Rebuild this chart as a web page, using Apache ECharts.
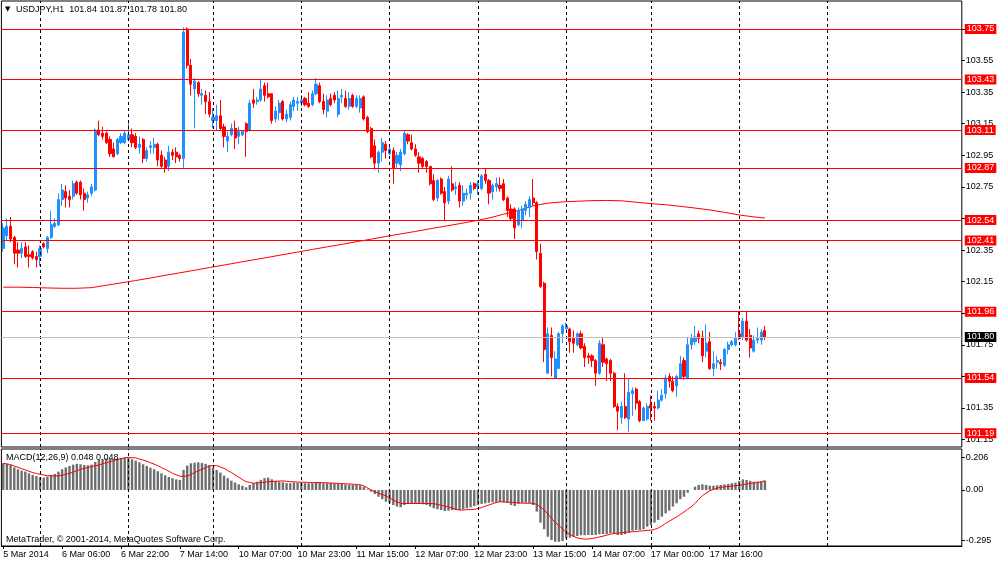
<!DOCTYPE html>
<html>
<head>
<meta charset="utf-8">
<title>USDJPY,H1</title>
<script src="https://cdn.jsdelivr.net/npm/echarts@6.0.0/dist/echarts.min.js"></script>
<style>
  html, body { margin: 0; padding: 0; background: #fff; }
  #chart { width: 1000px; height: 563px; }
</style>
</head>
<body>
<div id="chart"></div>
<script>
// hourly bars, [open, high, low, close], 5 Mar 14:00 .. 18 Mar 07:00
const bars = [
  [102.36,102.52,102.34,102.49],[102.44,102.55,102.41,102.50],[102.50,102.56,102.40,102.42],[102.43,102.44,102.26,102.33],
  [102.35,102.40,102.24,102.33],[102.33,102.40,102.30,102.36],[102.37,102.40,102.30,102.31],[102.32,102.38,102.24,102.31],
  [102.34,102.35,102.29,102.30],[102.31,102.34,102.24,102.29],[102.31,102.38,102.25,102.36],[102.39,102.40,102.36,102.37],
  [102.36,102.44,102.33,102.43],[102.43,102.60,102.42,102.51],[102.50,102.55,102.49,102.52],[102.51,102.71,102.50,102.67],
  [102.67,102.77,102.63,102.73],[102.72,102.76,102.62,102.68],[102.69,102.73,102.62,102.67],[102.69,102.79,102.67,102.77],
  [102.78,102.79,102.70,102.71],[102.78,102.79,102.67,102.70],[102.71,102.74,102.60,102.67],[102.68,102.72,102.65,102.70],
  [102.71,102.77,102.69,102.75],[102.73,103.12,102.72,103.11],[103.11,103.17,103.07,103.08],[103.09,103.13,103.05,103.07],
  [103.09,103.10,103.02,103.03],[103.05,103.07,102.94,102.96],[102.99,103.03,102.94,102.94],[102.96,103.06,102.95,103.05],
  [103.03,103.09,103.02,103.07],[103.03,103.11,103.02,103.09],[103.05,103.17,103.04,103.08],[103.08,103.12,103.00,103.03],
  [103.07,103.09,102.99,103.00],[103.00,103.07,102.96,103.02],[103.05,103.06,102.90,102.93],[102.93,103.00,102.91,102.98],
  [103.00,103.04,102.96,103.01],[103.00,103.06,102.96,103.02],[103.02,103.03,102.88,102.92],[102.95,102.98,102.87,102.88],
  [102.92,102.94,102.84,102.87],[102.88,103.01,102.85,102.97],[102.97,102.99,102.92,102.95],[102.97,103.00,102.90,102.94],
  [102.95,102.96,102.91,102.93],[102.93,103.76,102.87,103.73],[103.75,103.76,103.50,103.52],[103.52,103.56,103.33,103.40],
  [103.37,103.44,103.12,103.42],[103.41,103.42,103.32,103.34],[103.33,103.37,103.27,103.34],[103.33,103.36,103.21,103.29],
  [103.29,103.35,103.19,103.21],[103.17,103.25,103.12,103.19],[103.17,103.27,103.11,103.20],[103.20,103.30,103.11,103.12],
  [103.13,103.15,103.00,103.07],[103.04,103.10,102.97,103.07],[103.08,103.15,103.07,103.12],[103.12,103.17,102.99,103.06],
  [103.07,103.13,103.02,103.10],[103.08,103.11,103.07,103.10],[103.15,103.16,102.94,103.10],[103.11,103.30,103.10,103.28],
  [103.30,103.37,103.25,103.28],[103.29,103.32,103.27,103.30],[103.30,103.43,103.29,103.37],[103.39,103.41,103.29,103.33],
  [103.34,103.41,103.31,103.32],[103.34,103.34,103.15,103.17],[103.18,103.26,103.16,103.23],[103.22,103.30,103.17,103.28],
  [103.29,103.30,103.17,103.18],[103.18,103.24,103.16,103.21],[103.19,103.29,103.17,103.27],[103.26,103.32,103.23,103.30],
  [103.28,103.32,103.23,103.29],[103.28,103.33,103.26,103.30],[103.31,103.32,103.26,103.27],[103.28,103.35,103.25,103.26],
  [103.27,103.36,103.26,103.34],[103.34,103.44,103.33,103.40],[103.39,103.41,103.28,103.29],[103.29,103.34,103.21,103.24],
  [103.23,103.33,103.19,103.30],[103.31,103.34,103.26,103.27],[103.33,103.35,103.28,103.30],[103.21,103.36,103.19,103.31],
  [103.32,103.37,103.28,103.33],[103.31,103.36,103.25,103.26],[103.26,103.35,103.24,103.31],[103.33,103.34,103.25,103.26],
  [103.26,103.33,103.25,103.31],[103.25,103.33,103.22,103.31],[103.32,103.33,103.17,103.18],[103.19,103.20,103.09,103.10],
  [103.12,103.13,102.93,102.94],[103.01,103.05,102.86,102.90],[102.90,102.98,102.84,102.97],[102.97,103.06,102.91,103.03],
  [103.02,103.04,102.93,102.98],[102.96,103.01,102.95,102.99],[102.98,103.00,102.77,102.87],[102.90,102.97,102.87,102.95],
  [102.89,102.99,102.85,102.97],[102.96,103.11,102.95,103.09],[103.08,103.09,103.02,103.04],[103.03,103.08,102.98,102.99],
  [102.99,103.02,102.94,102.95],[102.94,102.97,102.84,102.90],[102.93,102.94,102.87,102.88],[102.91,102.92,102.84,102.88],
  [102.88,102.88,102.76,102.77],[102.79,102.83,102.66,102.67],[102.68,102.80,102.66,102.79],[102.80,102.81,102.70,102.71],
  [102.72,102.75,102.54,102.65],[102.66,102.82,102.64,102.80],[102.77,102.88,102.72,102.73],[102.74,102.78,102.70,102.75],
  [102.76,102.78,102.62,102.66],[102.66,102.76,102.63,102.71],[102.70,102.74,102.67,102.71],[102.71,102.78,102.67,102.76],
  [102.77,102.78,102.73,102.74],[102.75,102.79,102.70,102.77],[102.74,102.83,102.73,102.82],[102.83,102.87,102.77,102.79],
  [102.79,102.80,102.64,102.71],[102.72,102.77,102.67,102.76],[102.75,102.81,102.72,102.77],[102.76,102.81,102.72,102.74],
  [102.77,102.80,102.66,102.67],[102.68,102.69,102.56,102.60],[102.61,102.64,102.54,102.55],[102.61,102.62,102.42,102.49],
  [102.51,102.62,102.50,102.60],[102.54,102.63,102.49,102.61],[102.60,102.66,102.57,102.64],[102.62,102.69,102.56,102.67],
  [102.68,102.80,102.63,102.65],[102.65,102.66,102.29,102.34],[102.33,102.39,102.11,102.12],[102.14,102.15,101.64,101.72],
  [101.57,101.86,101.57,101.82],[101.81,101.86,101.55,101.67],[101.54,101.71,101.54,101.66],[101.60,101.83,101.60,101.82],
  [101.82,101.88,101.76,101.87],[101.85,101.89,101.85,101.87],[101.85,101.86,101.70,101.77],[101.79,101.84,101.70,101.76],
  [101.75,101.83,101.74,101.82],[101.82,101.84,101.72,101.73],[101.74,101.76,101.61,101.67],[101.68,101.70,101.63,101.67],
  [101.68,101.69,101.61,101.65],[101.65,101.66,101.49,101.57],[101.57,101.78,101.56,101.76],[101.75,101.80,101.61,101.64],
  [101.66,101.67,101.52,101.63],[101.65,101.66,101.52,101.57],[101.57,101.58,101.35,101.36],[101.36,101.38,101.21,101.33],
  [101.29,101.39,101.25,101.36],[101.36,101.57,101.28,101.29],[101.28,101.54,101.20,101.45],[101.44,101.48,101.30,101.46],
  [101.47,101.48,101.34,101.38],[101.39,101.40,101.26,101.27],[101.27,101.36,101.27,101.35],[101.28,101.38,101.27,101.36],
  [101.37,101.43,101.27,101.35],[101.36,101.39,101.27,101.35],[101.35,101.46,101.34,101.40],[101.40,101.47,101.39,101.43],
  [101.44,101.56,101.41,101.54],[101.55,101.57,101.48,101.52],[101.52,101.55,101.45,101.46],[101.49,101.56,101.42,101.55],
  [101.54,101.68,101.53,101.63],[101.65,101.67,101.53,101.55],[101.54,101.80,101.53,101.75],[101.75,101.82,101.72,101.79],
  [101.77,101.87,101.75,101.80],[101.82,101.84,101.76,101.79],[101.80,101.84,101.64,101.68],[101.71,101.88,101.67,101.76],
  [101.77,101.83,101.59,101.60],[101.60,101.71,101.55,101.63],[101.64,101.68,101.60,101.65],[101.64,101.66,101.59,101.63],
  [101.62,101.73,101.61,101.72],[101.72,101.77,101.69,101.75],[101.75,101.78,101.74,101.77],[101.75,101.83,101.74,101.79],
  [101.82,101.96,101.78,101.79],[101.80,101.92,101.78,101.90],[101.90,101.96,101.77,101.78],[101.81,101.85,101.67,101.73],
  [101.71,101.81,101.70,101.78],[101.78,101.86,101.76,101.79],[101.78,101.85,101.75,101.83],[101.84,101.87,101.78,101.80]
];

// moving average at these bars
const maBars = [0,4,8,12,16,20,24,28,32,36,40,44,48,52,56,60,64,68,72,76,80,84,88,92,96,100,
  104,108,112,116,120,124,128,132,136,140,144,148,152,156,160,164,168,172,176,180,184,188,192,196,200,204,207];
const maValues = [102.115,102.115,102.113,102.110,102.108,102.108,102.112,102.127,102.142,102.157,102.173,102.190,
  102.206,102.222,102.239,102.255,102.272,102.288,102.304,102.321,102.337,102.354,102.370,102.386,102.403,102.419,
  102.436,102.452,102.468,102.485,102.501,102.517,102.534,102.553,102.577,102.600,102.630,102.647,102.655,102.659,
  102.663,102.664,102.662,102.653,102.644,102.637,102.627,102.616,102.604,102.589,102.572,102.560,102.553];

// MACD(12,26,9) main (histogram) and signal
const macdMain = [
  0.138,0.135,0.129,0.117,0.107,0.100,0.095,0.086,0.078,0.072,
  0.066,0.064,0.069,0.078,0.083,0.095,0.107,0.117,0.124,0.131,
  0.135,0.133,0.129,0.128,0.131,0.145,0.155,0.159,0.162,0.162,
  0.160,0.162,0.166,0.167,0.166,0.159,0.152,0.143,0.133,0.124,
  0.115,0.107,0.097,0.086,0.076,0.067,0.061,0.055,0.052,0.104,
  0.126,0.138,0.141,0.143,0.140,0.135,0.128,0.115,0.104,0.090,
  0.074,0.061,0.048,0.038,0.029,0.022,0.014,0.026,0.035,0.043,
  0.052,0.061,0.064,0.055,0.047,0.043,0.040,0.035,0.035,0.038,
  0.038,0.038,0.035,0.035,0.035,0.041,0.040,0.035,0.035,0.036,
  0.035,0.031,0.031,0.029,0.027,0.026,0.026,0.024,0.016,0.003,
  -0.009,-0.021,-0.035,-0.048,-0.061,-0.069,-0.078,-0.086,-0.090,-0.078,
  -0.072,-0.072,-0.072,-0.072,-0.074,-0.078,-0.086,-0.095,-0.100,-0.104,
  -0.109,-0.107,-0.104,-0.104,-0.104,-0.100,-0.095,-0.090,-0.083,-0.078,
  -0.072,-0.069,-0.066,-0.064,-0.064,-0.062,-0.064,-0.067,-0.078,-0.083,
  -0.072,-0.067,-0.066,-0.067,-0.078,-0.112,-0.169,-0.203,-0.242,-0.259,
  -0.268,-0.268,-0.264,-0.250,-0.247,-0.242,-0.238,-0.234,-0.234,-0.233,
  -0.233,-0.233,-0.229,-0.228,-0.228,-0.224,-0.228,-0.233,-0.233,-0.229,
  -0.221,-0.211,-0.207,-0.207,-0.203,-0.190,-0.181,-0.169,-0.155,-0.138,
  -0.121,-0.107,-0.086,-0.069,-0.048,-0.035,-0.014,0.000,0.017,0.026,
  0.029,0.026,0.022,0.022,0.024,0.026,0.029,0.031,0.035,0.038,
  0.047,0.055,0.052,0.047,0.043,0.043,0.045,0.048
];
const macdSignal = [
  0.138,0.135,0.131,0.124,0.117,0.110,0.104,0.097,0.090,0.085,
  0.081,0.078,0.074,0.073,0.072,0.073,0.076,0.081,0.086,0.093,
  0.100,0.106,0.112,0.116,0.121,0.125,0.129,0.136,0.141,0.146,
  0.152,0.157,0.162,0.166,0.169,0.167,0.166,0.160,0.155,0.149,
  0.141,0.134,0.126,0.116,0.107,0.097,0.086,0.079,0.071,0.071,
  0.072,0.080,0.090,0.098,0.107,0.115,0.124,0.126,0.126,0.119,
  0.112,0.101,0.090,0.078,0.066,0.054,0.043,0.039,0.035,0.036,
  0.038,0.040,0.043,0.044,0.045,0.046,0.047,0.045,0.043,0.042,
  0.041,0.040,0.040,0.039,0.038,0.038,0.038,0.038,0.037,0.036,
  0.035,0.034,0.033,0.032,0.031,0.030,0.028,0.027,0.021,0.010,
  0.000,-0.009,-0.017,-0.023,-0.031,-0.041,-0.052,-0.062,-0.069,-0.070,
  -0.070,-0.070,-0.070,-0.070,-0.070,-0.070,-0.070,-0.071,-0.075,-0.079,
  -0.084,-0.088,-0.094,-0.100,-0.104,-0.104,-0.102,-0.101,-0.100,-0.096,
  -0.091,-0.084,-0.078,-0.071,-0.065,-0.061,-0.062,-0.063,-0.064,-0.065,
  -0.067,-0.068,-0.069,-0.069,-0.069,-0.075,-0.088,-0.104,-0.124,-0.147,
  -0.168,-0.184,-0.202,-0.220,-0.230,-0.240,-0.248,-0.252,-0.254,-0.254,
  -0.251,-0.248,-0.243,-0.239,-0.234,-0.229,-0.225,-0.223,-0.221,-0.219,
  -0.218,-0.216,-0.215,-0.213,-0.211,-0.209,-0.208,-0.204,-0.197,-0.186,
  -0.173,-0.162,-0.150,-0.140,-0.127,-0.114,-0.100,-0.086,-0.069,-0.049,
  -0.029,-0.017,-0.004,0.003,0.009,0.014,0.016,0.018,0.020,0.022,
  0.024,0.027,0.031,0.034,0.036,0.039,0.042,0.048
];

// horizontal levels drawn on the chart, and the current bid
const levels = [103.75, 103.43, 103.11, 102.87, 102.54, 102.41, 101.96, 101.54, 101.19];
const bid = 101.80;

// day separators (bar index of 00:00) and time labels every 16 bars
const daySeparators = [10, 34, 57, 81, 105, 129, 153, 176, 200, 224];
const timeLabels = ['5 Mar 2014', '6 Mar 06:00', '6 Mar 22:00', '7 Mar 14:00', '10 Mar 07:00', '10 Mar 23:00',
  '11 Mar 15:00', '12 Mar 07:00', '12 Mar 23:00', '13 Mar 15:00', '14 Mar 07:00', '17 Mar 00:00', '17 Mar 16:00'];
const labelStep = 16;

const priceTicks = [101.15, 101.35, 101.55, 101.75, 101.95, 102.15, 102.35, 102.55, 102.75, 102.95, 103.15, 103.35, 103.55, 103.75];
// MetaTrader prints the window max / zero / min; placed where they sit on the scale
const macdTickPos = [0.169, 0, -0.262];
const macdTickText = ['0.206', '0.00', '-0.295'];

const SLOTS = 261; // bars + empty right shift
const slots = Array.from({ length: SLOTS }, (_, i) => String(i));

const FONT = 'Liberation Sans';
const txt = { fontFamily: FONT, fontSize: 9, color: '#000' };

const chart = echarts.init(document.getElementById('chart'), null, { renderer: 'canvas' });

const sepLines = daySeparators.map(i => ({
  xAxis: String(i),
  lineStyle: { color: '#000', width: 1, type: [3, 3] },
  label: { show: false }
}));

const levelLines = levels.map(v => ({
  yAxis: v,
  lineStyle: { color: '#ff0000', width: 1, type: 'solid' },
  label: {
    show: true, position: 'end', distance: 3,
    formatter: p => p.value.toFixed(2),
    color: '#fff', backgroundColor: '#ff0000', padding: [1, 2, 0, 2],
    fontFamily: FONT, fontSize: 9
  }
}));

chart.setOption({
  animation: false,
  backgroundColor: '#fff',
  grid: [
    { left: 1.4, right: 38.2, top: 1, height: 446, show: true, borderColor: '#000', borderWidth: 1 },
    { left: 1.4, right: 38.2, top: 449, height: 97, show: true, borderColor: '#000', borderWidth: 1 }
  ],
  xAxis: [
    {
      type: 'category', gridIndex: 0, data: slots, boundaryGap: true,
      axisLine: { show: false }, axisTick: { show: false }, axisLabel: { show: false }, splitLine: { show: false }
    },
    {
      type: 'category', gridIndex: 1, data: slots, boundaryGap: true,
      axisLine: { show: true, onZero: false, lineStyle: { color: '#000' } },
      axisTick: {
        show: true, length: 3, alignWithLabel: true, lineStyle: { color: '#000' },
        interval: i => i % labelStep === 0 && i / labelStep < timeLabels.length
      },
      axisLabel: {
        ...txt, margin: 4, align: 'left',
        interval: i => i % labelStep === 0 && i / labelStep < timeLabels.length,
        formatter: (v, i) => timeLabels[i / labelStep] || ''
      },
      splitLine: { show: false }
    }
  ],
  yAxis: [
    {
      type: 'value', gridIndex: 0, position: 'right', min: 101.103, max: 103.927, scale: true,
      axisLine: { show: false },
      axisTick: { show: true, length: 3, customValues: priceTicks, lineStyle: { color: '#000' } },
      axisLabel: { ...txt, margin: 4, customValues: priceTicks, formatter: v => v.toFixed(2) },
      splitLine: { show: false }
    },
    {
      type: 'value', gridIndex: 1, position: 'right', min: -0.29, max: 0.212,
      axisLine: { show: false },
      axisTick: { show: true, length: 3, customValues: macdTickPos, lineStyle: { color: '#000' } },
      axisLabel: {
        ...txt, margin: 4, customValues: macdTickPos,
        formatter: v => macdTickText[macdTickPos.indexOf(v)]
      },
      splitLine: { show: false }
    }
  ],
  series: [
    {
      name: 'USDJPY', type: 'candlestick', xAxisIndex: 0, yAxisIndex: 0,
      data: bars.map(b => [b[0], b[3], b[2], b[1]]),
      barWidth: 2.6,
      itemStyle: { color: '#1e90ff', color0: '#ff0000', borderColor: '#1e90ff', borderColor0: '#ff0000', borderWidth: 1 },
      markLine: {
        silent: true, symbol: ['none', 'none'], animation: false,
        data: [
          ...sepLines,
          ...levelLines,
          {
            yAxis: bid,
            lineStyle: { color: '#c0c0c0', width: 1, type: 'solid' },
            label: {
              show: true, position: 'end', distance: 3,
              formatter: p => p.value.toFixed(2),
              color: '#fff', backgroundColor: '#000', padding: [1, 2, 0, 2],
              fontFamily: FONT, fontSize: 9
            }
          }
        ]
      }
    },
    {
      name: 'MA', type: 'line', xAxisIndex: 0, yAxisIndex: 0,
      data: maBars.map((b, k) => [b, maValues[k]]),
      showSymbol: false, symbol: 'none', smooth: false,
      lineStyle: { color: '#ff0000', width: 1 }, z: 1
    },
    {
      name: 'MACD', type: 'bar', xAxisIndex: 1, yAxisIndex: 1,
      data: macdMain, barWidth: 2.4,
      itemStyle: { color: '#6e6e6e' },
      markLine: { silent: true, symbol: ['none', 'none'], animation: false, data: sepLines }
    },
    {
      name: 'Signal', type: 'line', xAxisIndex: 1, yAxisIndex: 1,
      data: macdSignal, showSymbol: false, symbol: 'none',
      lineStyle: { color: '#ff0000', width: 1 }
    }
  ],
  graphic: [
    { type: 'text', x: 5, y: 9.5, style: { text: '▼', fontFamily: 'DejaVu Sans', fontSize: 7, fill: '#000', verticalAlign: 'middle' } },
    { type: 'text', x: 16, y: 9.5, style: { text: 'USDJPY,H1  101.84 101.87 101.78 101.80', fontFamily: FONT, fontSize: 9, fill: '#000', verticalAlign: 'middle' } },
    { type: 'text', x: 6, y: 458, z: 10, style: { text: 'MACD(12,26,9) 0.048 0.048', fontFamily: FONT, fontSize: 9, fill: '#000', verticalAlign: 'middle' } },
    { type: 'text', x: 6, y: 540, style: { text: 'MetaTrader, © 2001-2014, MetaQuotes Software Corp.', fontFamily: FONT, fontSize: 9, fill: '#000', verticalAlign: 'middle' } }
  ]
});
</script>
</body>
</html>
